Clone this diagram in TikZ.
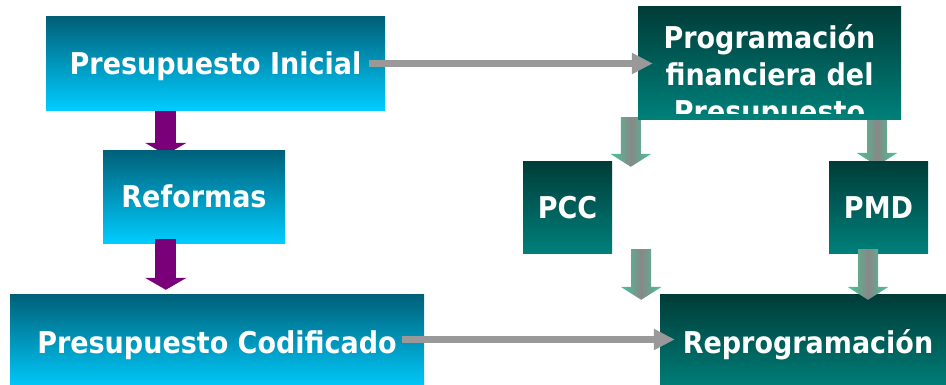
\documentclass[tikz,border=0pt]{standalone}
\usepackage{fontspec}
\setmainfont{DejaVu Sans Condensed}
\usepackage{xcolor}
\usepackage{tikz}
\usetikzlibrary{arrows.meta, calc, backgrounds}

\definecolor{cyantop}{RGB}{0,96,120}
\definecolor{cyanbot}{RGB}{0,204,255}
\definecolor{tealtop}{RGB}{0,60,56}
\definecolor{tealbot}{RGB}{0,128,122}
\definecolor{arrpurple}{RGB}{122,0,122}
\definecolor{arrgray}{RGB}{153,153,153}
\definecolor{arrgreen}{RGB}{64,200,150}
\definecolor{arrmid}{RGB}{136,136,136}

\tikzset{
	boxfont/.style={text=white, font=\fontsize{30}{37}\selectfont\bfseries},
	cyanbox/.style={boxfont, inner sep=0pt, top color=cyantop, bottom color=cyanbot, text height=22pt, text depth=0pt},
	tealbox/.style={boxfont, inner sep=0pt, top color=tealtop, bottom color=tealbot, text height=22pt, text depth=0pt},
	purplearrow/.style={line width=21pt, arrpurple, -{Triangle[width=41pt, length=12pt]}},
	grayarrow/.style={line width=7pt, arrgray, -{Triangle[width=20pt, length=21pt]}},
	greenarrow/.style={left color=arrgreen, right color=arrgreen, middle color=arrmid},
}

% block arrow pointing down, from #1 to #2
\newcommand{\greendown}[2]{%
	\shade[greenarrow] let \p1=(#1), \p2=(#2) in
		(\x1-10pt,\y1) -- (\x1-10pt,\y2+13pt) -- (\x1-20.5pt,\y2+13pt) -- (\x1,\y2)
		-- (\x1+20.5pt,\y2+13pt) -- (\x1+10pt,\y2+13pt) -- (\x1+10pt,\y1) -- cycle;
}

\begin{document}
\begin{tikzpicture}[x=1pt, y=1pt]
		\useasboundingbox (0,0) rectangle (946,384);
		
		% Budget boxes
		\node[cyanbox, minimum width=339pt, minimum height=93pt] (ini) at (215.5,320.5) {Presupuesto Inicial};
		\node[tealbox, minimum width=263pt, minimum height=112pt] (prog) at (769.5,321) {};
		\begin{scope}
			\clip (638,271) rectangle (901,377);
			\node[boxfont, align=center, anchor=north] (progtxt) at (769.5,363) {Programación\\financiera del\\Presupuesto};
		\end{scope}
		
		% Gray arrow on top
		\coordinate (t1) at ([xshift=-16pt]ini.east);
		\coordinate (t2) at ([xshift=15pt]prog.west);
		\draw[grayarrow] (t1) -- (t1 -| t2);
		
		% Left column
		\node[cyanbox, minimum width=182pt, minimum height=93pt] (ref) at (194,187.5) {Reformas};
		\node[cyanbox, minimum width=414pt, minimum height=96pt] (cod) at (217,42) {Presupuesto Codificado};
		\coordinate (p1) at ([xshift=120pt]ini.south west);
		\coordinate (p2) at ([xshift=63pt, yshift=4pt]ref.south west);
		\begin{pgfonlayer}{background}
			\draw[purplearrow, shorten >=-5pt] (p1) -- (p1 |- ref.north);
		\end{pgfonlayer}
		\draw[purplearrow, shorten >=4pt] (p2) -- (p2 |- cod.north);
		
		% Right column
		\node[tealbox, minimum width=89pt, minimum height=92pt] (pcc) at (567.5,177) {PCC};
		\node[tealbox, minimum width=99pt, minimum height=92pt] (pmd) at (878.5,177) {PMD};
		\node[tealbox, minimum width=296pt, minimum height=96pt] (rep) at (808,42) {Reprogramación};
		
		% Green arrows
		\coordinate (g1a) at ([xshift=-7pt, yshift=2pt]prog.south west);
		\coordinate (g1b) at ($(g1a |- pcc.north)+(0,-6)$);
		\coordinate (g2a) at ($(pmd.north |- prog.south)+(-1.5,2)$);
		\coordinate (g2b) at ($(g2a |- pmd.north)+(0,-5)$);
		\begin{pgfonlayer}{background}
			\greendown{g1a}{g1b}
			\greendown{g2a}{g2b}
		\end{pgfonlayer}
		\coordinate (g3a) at ($(pcc.south east)+(29,4)$);
		\coordinate (g3b) at ($(g3a |- rep.north)+(0,-6)$);
		\coordinate (g4a) at ($(pmd.south)+(-10.5,4)$);
		\coordinate (g4b) at ($(g4a |- rep.north)+(0,-6)$);
		\greendown{g3a}{g3b}
		\greendown{g4a}{g4b}
		
		% Gray arrow at the bottom
		\coordinate (b1) at ($(cod.east)+(-22,2.5)$);
		\coordinate (b2) at ([xshift=15pt]rep.west);
		\draw[grayarrow] (b1) -- (b1 -| b2);
		
	\end{tikzpicture}
\end{document}
